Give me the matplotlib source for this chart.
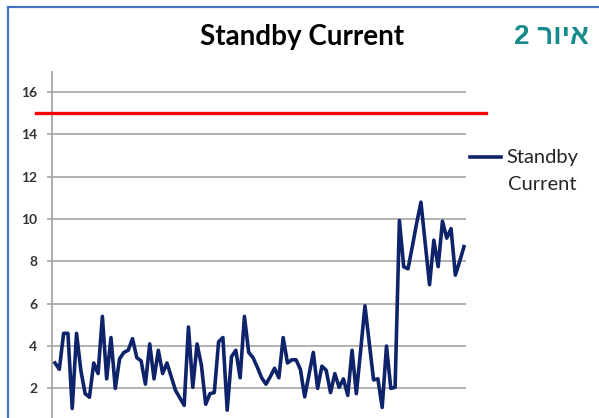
import matplotlib
matplotlib.use('Agg')
import matplotlib.pyplot as plt
import matplotlib.transforms as mtransforms
from matplotlib.lines import Line2D
import numpy as np

# ---- data ----
title = "Standby Current"
series_name_lines = ["Standby", "Current"]
caption = "2 \u05e8\u05d5\u05d9\u05d0"  # "איור 2" written in visual (RTL) order
standby_current = [
    3.2, 2.9, 4.6, 4.6, 1.05, 4.6, 2.85, 1.75, 1.58, 3.2,
    2.7, 5.4, 2.45, 4.4, 2.0, 3.4, 3.7, 3.8, 4.35, 3.45,
    3.3, 2.2, 4.1, 2.45, 3.8, 2.7, 3.2, 2.55, 1.9, 1.55,
    1.2, 4.9, 2.05, 4.1, 3.1, 1.25, 1.75, 1.8, 4.2, 4.4,
    0.97, 3.5, 3.8, 2.5, 5.4, 3.7, 3.45, 3.0, 2.5, 2.2,
    2.55, 2.95, 2.5, 4.4, 3.2, 3.35, 3.35, 2.9, 1.6, 2.65,
    3.7, 2.0, 3.05, 2.85, 1.8, 2.7, 2.05, 2.45, 1.67, 3.8,
    1.75, 3.8, 5.9, 4.15, 2.4, 2.45, 1.1, 4.0, 2.0, 2.05,
    9.93, 7.75, 7.65, 8.7, 9.8, 10.8, 8.85, 6.9, 9.0, 7.75,
    9.9, 9.1, 9.55, 7.35, 8.0, 8.7,
]
limit_value = 15
y_ticks = [2, 4, 6, 8, 10, 12, 14, 16]

# ---- figure ----
W, H = 599, 418
fig = plt.figure(figsize=(W / 100, H / 100), dpi=100)
fig.patch.set_facecolor('white')

ax = fig.add_axes([52 / W, 0, (466 - 52) / W, (418 - 72) / H])
x = np.arange(len(standby_current))
ax.plot(x, standby_current, color='#0E2369', lw=2.6, zorder=3)
ax.set_xlim(-0.7, len(standby_current) - 1 + 0.47)
ax.set_ylim(0.6, 16.95)

ax.set_xticks([])
ax.set_yticks(y_ticks)
ax.set_yticklabels([str(t) for t in y_ticks])
ax.tick_params(axis='y', colors='#A6A6A6', length=3.6, width=1.2, pad=7,
               labelcolor='#333333', labelsize=10)
for lab in ax.get_yticklabels():
    lab.set_family('Lato')
    lab.set_fontweight('bold')
ax.grid(axis='y', color='#ABABAB', lw=1.3)
ax.set_axisbelow(True)
for s in ['top', 'right', 'bottom']:
    ax.spines[s].set_visible(False)
ax.spines['left'].set_color('#A6A6A6')
ax.spines['left'].set_linewidth(1.3)

# red limit line (extends beyond the plot area)
trans = mtransforms.blended_transform_factory(fig.transFigure, ax.transData)
fig.add_artist(Line2D([36 / W, 486 / W], [limit_value, limit_value], transform=trans,
                      color='#FF0000', lw=2.4, clip_on=False))

# legend (manual)
ly = 1 - 157 / H
fig.add_artist(Line2D([470 / W, 501 / W], [ly, ly], transform=fig.transFigure,
                      color='#0E2369', lw=2.6))
fig.text(506 / W, 1 - 157 / H, series_name_lines[0], ha='left', va='center',
         fontsize=14.5, family='Lato', color='#262626')
fig.text(508 / W, 1 - 185 / H, series_name_lines[1], ha='left', va='center',
         fontsize=14.5, family='Lato', color='#262626')

# title and caption
fig.text(302 / W, 1 - 37 / H, title, ha='center', va='center', fontsize=20,
         fontweight='bold', family='Lato', color='black')
fig.text(551 / W, 1 - 37 / H, caption, ha='center', va='center', fontsize=20,
         family=['Liberation Sans', 'DejaVu Sans'], fontweight='bold', color='#168B8B')

# blue frame
fig.add_artist(Line2D([8 / W, 8 / W], [0, 1 - 7 / H], transform=fig.transFigure,
                      color='#4472C4', lw=1.6))
fig.add_artist(Line2D([8 / W, 1], [1 - 7 / H, 1 - 7 / H], transform=fig.transFigure,
                      color='#4472C4', lw=1.6))

fig.savefig('out.png', dpi=100)
